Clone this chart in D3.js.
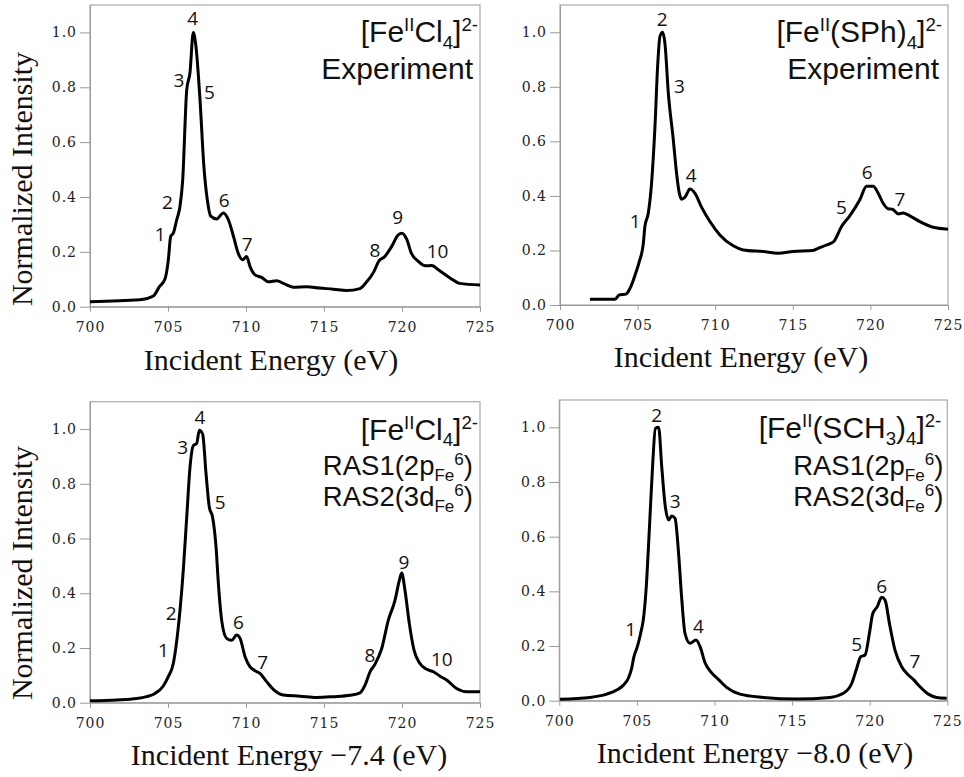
<!DOCTYPE html>
<html>
<head>
<meta charset="utf-8">
<script src="https://cdn.jsdelivr.net/npm/d3@7"></script>
<style>
  body { margin: 0; background: #fff; }
  .tick line { stroke: #999; }
  .domain { stroke: #999; }
  .axisText { font-family: "Liberation Serif", "Times New Roman", serif; font-size: 30px; fill: #111; }
  .peak { font-family: "Open Sans", sans-serif; font-size: 19px; fill: #111; }
  .title { font-family: "Liberation Sans", Arial, sans-serif; fill: #111; }
</style>
</head>
<body>
<div class="chart"></div>
<script>
// [FeCl4]2- experiment
var clExpEnergy = [700, 703.2, 704.06, 704.45, 704.8, 705.02, 705.17, 705.34, 705.56, 705.77, 705.94, 706.2, 706.41, 706.62, 706.79, 707.05, 707.3, 707.52, 707.74, 708.12, 708.55, 708.87, 709.2, 709.5, 709.79, 710.04, 710.26, 710.58, 711, 711.43, 711.97, 712.4, 713.03, 713.9, 714.7, 715.6, 716.45, 717.3, 717.7, 718.2, 718.5, 718.9, 719.34, 719.76, 720.0, 720.3, 720.6, 721.05, 721.5, 721.9, 722.4, 723.1, 723.7, 725];
var clExpIntensity = [0.018, 0.025, 0.039, 0.073, 0.10, 0.17, 0.256, 0.268, 0.317, 0.366, 0.46, 0.79, 0.854, 1.0, 0.95, 0.756, 0.512, 0.39, 0.33, 0.32, 0.342, 0.317, 0.256, 0.195, 0.171, 0.183, 0.146, 0.116, 0.107, 0.091, 0.095, 0.085, 0.071, 0.073, 0.068, 0.064, 0.059, 0.066, 0.088, 0.128, 0.165, 0.183, 0.22, 0.262, 0.268, 0.246, 0.195, 0.165, 0.149, 0.15, 0.132, 0.104, 0.085, 0.079];
var clExpPeaks = [
  { t: "1", e: 704.5, v: 0.265 }, { t: "2", e: 704.97, v: 0.38 }, { t: "3", e: 705.7, v: 0.827 },
  { t: "4", e: 706.58, v: 1.05 }, { t: "5", e: 707.65, v: 0.78 }, { t: "6", e: 708.6, v: 0.388 },
  { t: "7", e: 710.08, v: 0.226 }, { t: "8", e: 718.27, v: 0.207 }, { t: "9", e: 719.72, v: 0.327 },
  { t: "10", e: 722.28, v: 0.201 }
];

// [Fe(SPh)4]2- experiment
var sphExpEnergy = [701.93, 703.54, 703.82, 704.25, 704.51, 704.89, 705.11, 705.37, 705.47, 705.69, 705.90, 706.12, 706.29, 706.44, 706.61, 706.76, 706.98, 707.30, 707.51, 707.68, 707.83, 708.05, 708.37, 708.69, 709.12, 709.66, 710.30, 711.16, 711.81, 713.09, 714.06, 715.02, 716.31, 716.63, 717.17, 717.64, 718.14, 718.67, 719.32, 719.75, 720.18, 720.50, 720.82, 721.14, 721.42, 721.79, 722.11, 722.54, 723.18, 724.04, 725.0];
var sphExpIntensity = [0.021, 0.021, 0.037, 0.04, 0.061, 0.119, 0.159, 0.226, 0.288, 0.337, 0.447, 0.655, 0.875, 0.985, 1.0, 0.96, 0.777, 0.606, 0.483, 0.412, 0.388, 0.395, 0.425, 0.41, 0.359, 0.306, 0.257, 0.217, 0.202, 0.196, 0.19, 0.196, 0.2, 0.208, 0.22, 0.233, 0.288, 0.327, 0.386, 0.435, 0.435, 0.41, 0.373, 0.353, 0.351, 0.334, 0.337, 0.327, 0.306, 0.285, 0.278];
var sphExpPeaks = [
  { t: "1", e: 704.85, v: 0.306 }, { t: "2", e: 706.58, v: 1.047 }, { t: "3", e: 707.7, v: 0.8 },
  { t: "4", e: 708.45, v: 0.477 }, { t: "5", e: 718.14, v: 0.359 }, { t: "6", e: 719.79, v: 0.486 },
  { t: "7", e: 721.9, v: 0.389 }
];

// [FeCl4]2- RAS calculation (shifted -7.4 eV)
var clCalcEnergy = [700.0, 701.71, 703.0, 703.63, 704.17, 704.7, 705.02, 705.34, 705.51, 705.77, 705.98, 706.2, 706.41, 706.62, 706.84, 707.01, 707.22, 707.44, 707.65, 707.86, 708.08, 708.23, 708.44, 708.76, 709.08, 709.4, 709.62, 709.94, 710.26, 710.58, 710.9, 711.32, 711.75, 712.39, 713.46, 714.53, 715.6, 716.67, 717.31, 717.63, 717.95, 718.27, 718.7, 719.12, 719.55, 719.83, 719.98, 720.19, 720.47, 720.77, 721.15, 721.58, 722.01, 722.44, 722.86, 723.5, 724.14, 725.0];
var clCalcIntensity = [0.007, 0.01, 0.015, 0.022, 0.034, 0.061, 0.095, 0.143, 0.204, 0.338, 0.484, 0.678, 0.86, 0.939, 0.948, 0.996, 0.982, 0.836, 0.714, 0.678, 0.569, 0.435, 0.301, 0.235, 0.228, 0.247, 0.235, 0.168, 0.131, 0.117, 0.107, 0.077, 0.049, 0.028, 0.024, 0.019, 0.022, 0.027, 0.036, 0.064, 0.113, 0.141, 0.198, 0.301, 0.374, 0.447, 0.474, 0.411, 0.289, 0.192, 0.143, 0.122, 0.113, 0.097, 0.083, 0.052, 0.04, 0.04];
var clCalcPeaks = [
  { t: "1", e: 704.7, v: 0.192 }, { t: "2", e: 705.2, v: 0.326 }, { t: "3", e: 705.94, v: 0.933 },
  { t: "4", e: 707.05, v: 1.043 }, { t: "5", e: 708.35, v: 0.733 }, { t: "6", e: 709.51, v: 0.295 },
  { t: "7", e: 711.07, v: 0.149 }, { t: "8", e: 717.95, v: 0.174 }, { t: "9", e: 720.13, v: 0.514 },
  { t: "10", e: 722.55, v: 0.158 }
];

// [Fe(SCH3)4]2- RAS calculation (shifted -8.0 eV)
var sch3CalcEnergy = [700.05, 701.98, 703.05, 703.70, 704.13, 704.45, 704.66, 704.81, 705.03, 705.24, 705.41, 705.59, 705.80, 706.02, 706.19, 706.40, 706.60, 706.83, 707.05, 707.24, 707.46, 707.67, 707.88, 708.10, 708.42, 708.81, 709.07, 709.39, 709.82, 710.25, 710.78, 711.64, 713.15, 715.29, 717.44, 718.30, 718.84, 719.16, 719.42, 719.70, 719.98, 720.19, 720.49, 720.77, 720.99, 721.27, 721.63, 722.06, 722.49, 722.81, 723.24, 723.78, 724.31, 724.96];
var sch3CalcIntensity = [0.005, 0.012, 0.024, 0.039, 0.057, 0.082, 0.118, 0.161, 0.198, 0.246, 0.295, 0.405, 0.624, 0.868, 0.996, 1.0, 0.856, 0.71, 0.661, 0.676, 0.667, 0.551, 0.38, 0.246, 0.21, 0.222, 0.198, 0.139, 0.102, 0.078, 0.049, 0.024, 0.012, 0.006, 0.012, 0.027, 0.063, 0.118, 0.161, 0.167, 0.246, 0.317, 0.344, 0.378, 0.368, 0.283, 0.185, 0.124, 0.094, 0.078, 0.051, 0.024, 0.012, 0.009];
var sch3CalcPeaks = [
  { t: "1", e: 704.6, v: 0.261 }, { t: "2", e: 706.27, v: 1.045 }, { t: "3", e: 707.46, v: 0.73 },
  { t: "4", e: 708.96, v: 0.273 }, { t: "5", e: 719.16, v: 0.207 }, { t: "6", e: 720.77, v: 0.42 },
  { t: "7", e: 722.92, v: 0.143 }
];

var xTicks = [700, 705, 710, 715, 720, 725];
var yTicks = [0, 0.2, 0.4, 0.6, 0.8, 1.0];

// title pieces: [text, 0 normal / 1 superscript / -1 subscript]
var titleCl = [["[Fe", 0], ["II", 1], ["Cl", 0], ["4", -1], ["]", 0], ["2-", 1]];
var titleSPh = [["[Fe", 0], ["II", 1], ["(SPh)", 0], ["4", -1], ["]", 0], ["2-", 1]];
var titleSCH3 = [["[Fe", 0], ["II", 1], ["(SCH", 0], ["3", -1], [")", 0], ["4", -1], ["]", 0], ["2-", 1]];
var ras1 = [["RAS1(2p", 0], ["Fe", -1], ["6", 1], [")", 0]];
var ras2 = [["RAS2(3d", 0], ["Fe", -1], ["6", 1], [")", 0]];

var svg = d3.select(".chart")
  .append("svg")
  .attr("width", 964)
  .attr("height", 777);

svg.append("rect").attr("width", 964).attr("height", 777).attr("fill", "#fff");

var panels = [
  { left: 90, top: 5, width: 390, height: 301.7, energy: clExpEnergy, intensity: clExpIntensity, peaks: clExpPeaks,
    lines: [{ parts: titleCl, size: 30, y: 37, dx: -2 }, { parts: [["Experiment", 0]], size: 30, y: 74, dx: -7 }],
    xTitle: "Incident Energy (eV)", xTitleX: 271, xTitleY: 370, yTitle: 179 },
  { left: 560, top: 5, width: 388, height: 300, energy: sphExpEnergy, intensity: sphExpIntensity, peaks: sphExpPeaks,
    lines: [{ parts: titleSPh, size: 30, y: 37, dx: -6 }, { parts: [["Experiment", 0]], size: 30, y: 74, dx: -9 }],
    xTitle: "Incident Energy (eV)", xTitleX: 741, xTitleY: 367 },
  { left: 90, top: 401.7, width: 390, height: 301, energy: clCalcEnergy, intensity: clCalcIntensity, peaks: clCalcPeaks,
    lines: [{ parts: titleCl, size: 30, y: 38, dx: -2 }, { parts: ras1, size: 27.5, y: 73, dx: -7 }, { parts: ras2, size: 27.5, y: 104, dx: -7 }],
    xTitle: "Incident Energy \u22127.4 (eV)", xTitleX: 289, xTitleY: 765, yTitle: 573 },
  { left: 559.3, top: 400, width: 388, height: 300.7, energy: sch3CalcEnergy, intensity: sch3CalcIntensity, peaks: sch3CalcPeaks,
    lines: [{ parts: titleSCH3, size: 30, y: 38, dx: -6 }, { parts: ras1, size: 27.5, y: 75, dx: -4 }, { parts: ras2, size: 27.5, y: 106, dx: -4 }],
    xTitle: "Incident Energy \u22128.0 (eV)", xTitleX: 755, xTitleY: 763 }
];

function richText(g, parts, size, x, y) {
  var text = g.append("text")
    .attr("class", "title")
    .attr("x", x)
    .attr("y", y)
    .attr("text-anchor", "end")
    .style("font-size", size + "px");
  var shift = 0;
  parts.forEach(function(p) {
    var target = 0, fs = size;
    if (p[1] === 1) { target = -size * 0.36; fs = size * 0.62; }
    if (p[1] === -1) { target = size * 0.22; fs = size * 0.62; }
    text.append("tspan")
      .attr("dy", target - shift)
      .style("font-size", fs + "px")
      .text(p[0]);
    shift = target;
  });
}

panels.forEach(function(p) {
  var chart = svg.append("g")
    .attr("transform", "translate(" + p.left + "," + p.top + ")");

  var xLinearScale = d3.scaleLinear().domain([700, 725]).range([0, p.width]);
  var yLinearScale = d3.scaleLinear().domain([0, 1.1]).range([p.height, 0]);

  chart.append("rect")
    .attr("width", p.width)
    .attr("height", p.height)
    .attr("fill", "none")
    .attr("stroke", "#aaa")
    .attr("stroke-width", 1.2);

  var xAxis = chart.append("g")
    .attr("transform", "translate(0," + p.height + ")")
    .call(d3.axisBottom(xLinearScale).tickValues(xTicks).tickSize(5).tickSizeOuter(0).tickPadding(10));

  var yAxis = chart.append("g")
    .call(d3.axisLeft(yLinearScale).tickValues(yTicks).tickFormat(d3.format(".1f")).tickSize(10).tickSizeOuter(0).tickPadding(3));

  [xAxis, yAxis].forEach(function(a) {
    a.attr("font-family", null).attr("font-size", null);
    a.selectAll("text")
      .style("font-family", "'DejaVu Serif', serif")
      .style("font-size", "14px")
      .style("letter-spacing", "1px")
      .attr("fill", "#222");
  });

  var pts = p.energy.map(function(e, i) { return [e, p.intensity[i]]; });
  var line = d3.line()
    .x(function(d) { return xLinearScale(d[0]); })
    .y(function(d) { return yLinearScale(d[1]); })
    .curve(d3.curveMonotoneX);

  chart.append("path")
    .datum(pts)
    .attr("d", line)
    .attr("fill", "none")
    .attr("stroke", "#000")
    .attr("stroke-width", 3)
    .attr("stroke-linejoin", "round");

  chart.selectAll(".peak")
    .data(p.peaks)
    .enter().append("text")
      .attr("class", "peak")
      .attr("x", function(d) { return xLinearScale(d.e); })
      .attr("y", function(d) { return yLinearScale(d.v); })
      .attr("dy", "0.35em")
      .attr("text-anchor", "middle")
      .text(function(d) { return d.t; });

  p.lines.forEach(function(l) {
    richText(chart, l.parts, l.size, p.width + l.dx, l.y);
  });

  svg.append("text")
    .attr("class", "axisText")
    .attr("x", p.xTitleX)
    .attr("y", p.xTitleY)
    .attr("text-anchor", "middle")
    .text(p.xTitle);

  if (p.yTitle) {
    svg.append("text")
      .attr("class", "axisText")
      .attr("transform", "translate(32," + p.yTitle + ") rotate(-90)")
      .attr("text-anchor", "middle")
      .text("Normalized Intensity");
  }
});
</script>
</body>
</html>
